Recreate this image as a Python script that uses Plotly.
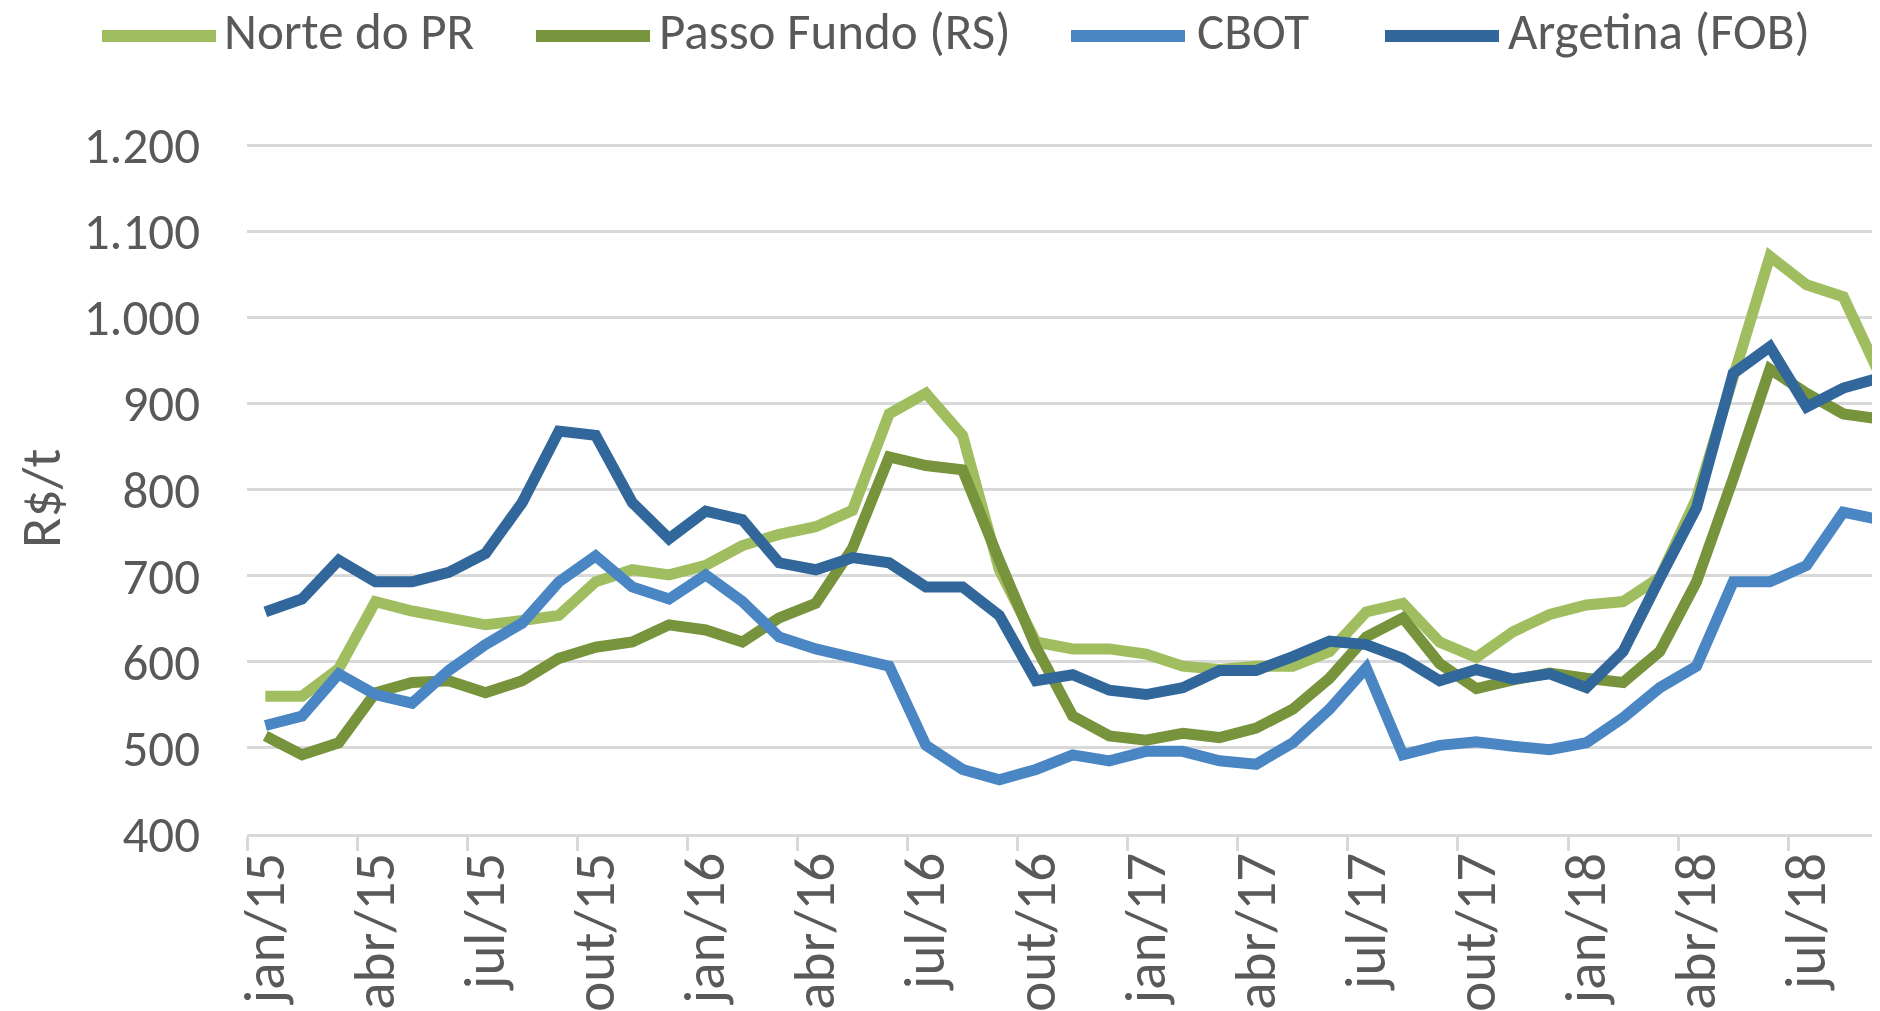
import plotly.graph_objects as go

# monthly prices, R$/t, jan/15 .. set/18
months = [
    "jan/15", "fev/15", "mar/15", "abr/15", "mai/15", "jun/15", "jul/15", "ago/15", "set/15", "out/15", "nov/15", "dez/15",
    "jan/16", "fev/16", "mar/16", "abr/16", "mai/16", "jun/16", "jul/16", "ago/16", "set/16", "out/16", "nov/16", "dez/16",
    "jan/17", "fev/17", "mar/17", "abr/17", "mai/17", "jun/17", "jul/17", "ago/17", "set/17", "out/17", "nov/17", "dez/17",
    "jan/18", "fev/18", "mar/18", "abr/18", "mai/18", "jun/18", "jul/18", "ago/18", "set/18",
]

norte_pr = [560, 560, 592, 670, 659, 652, 643, 648, 654, 693, 707, 701,
            712, 735, 748, 757, 776, 888, 912, 863, 707, 623, 615, 615,
            609, 595, 591, 595, 595, 612, 658, 668, 623, 605, 635, 655,
            666, 670, 698, 790, 930, 1071, 1038, 1024, 933]

passo_fundo = [514, 492, 506, 564, 576, 578, 564, 578, 604, 617, 623, 643,
               637, 623, 651, 668, 732, 838, 828, 823, 718, 617, 537, 514,
               509, 517, 512, 523, 545, 581, 629, 651, 598, 569, 579, 587,
               581, 576, 612, 693, 813, 940, 912, 888, 882]

cbot = [526, 537, 586, 562, 552, 590, 620, 645, 693, 723, 687, 673,
        701, 670, 629, 615, 605, 595, 503, 475, 463, 475, 492, 485,
        496, 496, 485, 481, 506, 545, 593, 492, 503, 507, 502, 498,
        506, 535, 570, 595, 693, 693, 712, 774, 765]

argentina = [658, 673, 718, 693, 693, 704, 726, 785, 868, 863, 785, 743,
             775, 765, 715, 707, 721, 715, 687, 687, 654, 578, 585, 567,
             562, 570, 590, 590, 606, 624, 620, 604, 578, 591, 580, 586,
             570, 612, 697, 779, 935, 966, 896, 918, 930]

series_names = ["Norte do PR", "Passo Fundo (RS)", "CBOT", "Argetina (FOB)"]
series_colors = ["#A0BE60", "#77933C", "#4A86C4", "#31679A"]
series_values = [norte_pr, passo_fundo, cbot, argentina]

# the page body has an 8px margin, so the figure is drawn 8px smaller
# and all positions below are given in screen pixels minus that offset
OFF = 8
W, H = 1880 - OFF, 1011 - OFF
L, R, T, B = 247 - OFF, 0, 144 - OFF, 1011 - 834
FONT = "Carlito, Calibri, Lato, sans-serif"
TEXT = "#595959"
GRID = "#D9D9D9"


def px_x(p):
    return (p - OFF - L) / (W - L - R)


def px_y(p):
    return (H - B - (p - OFF)) / (H - T - B)


idx = list(range(len(months)))

fig = go.Figure()

for name, vals, color in zip(series_names, series_values, series_colors):
    fig.add_trace(go.Scatter(
        x=idx,
        y=vals,
        name=name,
        mode='lines',
        line=dict(color=color, width=11),
        showlegend=False,
    ))

# legend drawn by hand (long line samples like the original)
legend_lines = [(102, 216), (536, 650), (1071, 1185), (1385, 1499)]
legend_text_x = [222, 657, 1195, 1506]
for name, color, (x0, x1), tx in zip(series_names, series_colors, legend_lines, legend_text_x):
    fig.add_shape(
        type="line", xref="paper", yref="paper",
        x0=px_x(x0), x1=px_x(x1), y0=px_y(36), y1=px_y(36),
        line=dict(color=color, width=12),
    )
    fig.add_annotation(
        x=px_x(tx), y=px_y(32), xref="paper", yref="paper",
        text=name, showarrow=False, xanchor="left", yanchor="middle",
        font=dict(family=FONT, size=51, color=TEXT),
    )

fig.add_annotation(
    x=px_x(41), y=px_y(498), xref="paper", yref="paper",
    text="R$/t", showarrow=False, textangle=-90,
    xanchor="center", yanchor="middle",
    font=dict(family=FONT, size=56, color=TEXT),
)

fig.update_layout(
    width=W,
    height=H,
    margin=dict(l=L, r=R, t=T, b=B),
    paper_bgcolor="white",
    plot_bgcolor="white",
    separators=",.",
    showlegend=False,
    font=dict(family=FONT, color=TEXT),
    xaxis=dict(
        range=[-0.5, 44],
        automargin=False,
        tickmode="array",
        tickvals=idx[::3],
        ticktext=months[::3],
        tickangle=-90,
        ticks="",
        ticklabelstandoff=-7,
        tickfont=dict(family=FONT, size=57, color=TEXT),
        showline=True,
        linecolor=GRID,
        linewidth=3,
        showgrid=False,
        zeroline=False,
        minor=dict(
            tickvals=[i - 0.5 for i in idx[::3]],
            ticks="outside",
            ticklen=14,
            tickwidth=3,
            tickcolor=GRID,
            showgrid=False,
        ),
    ),
    yaxis=dict(
        range=[400, 1201.5],
        automargin=False,
        tickmode="array",
        tickvals=list(range(400, 1201, 100)),
        tickformat=",d",
        ticks="",
        ticklabelstandoff=46,
        tickfont=dict(family=FONT, size=51, color=TEXT),
        showgrid=True,
        gridcolor=GRID,
        gridwidth=3,
        zeroline=False,
        showline=False,
    ),
)

fig.write_html("out.html")
